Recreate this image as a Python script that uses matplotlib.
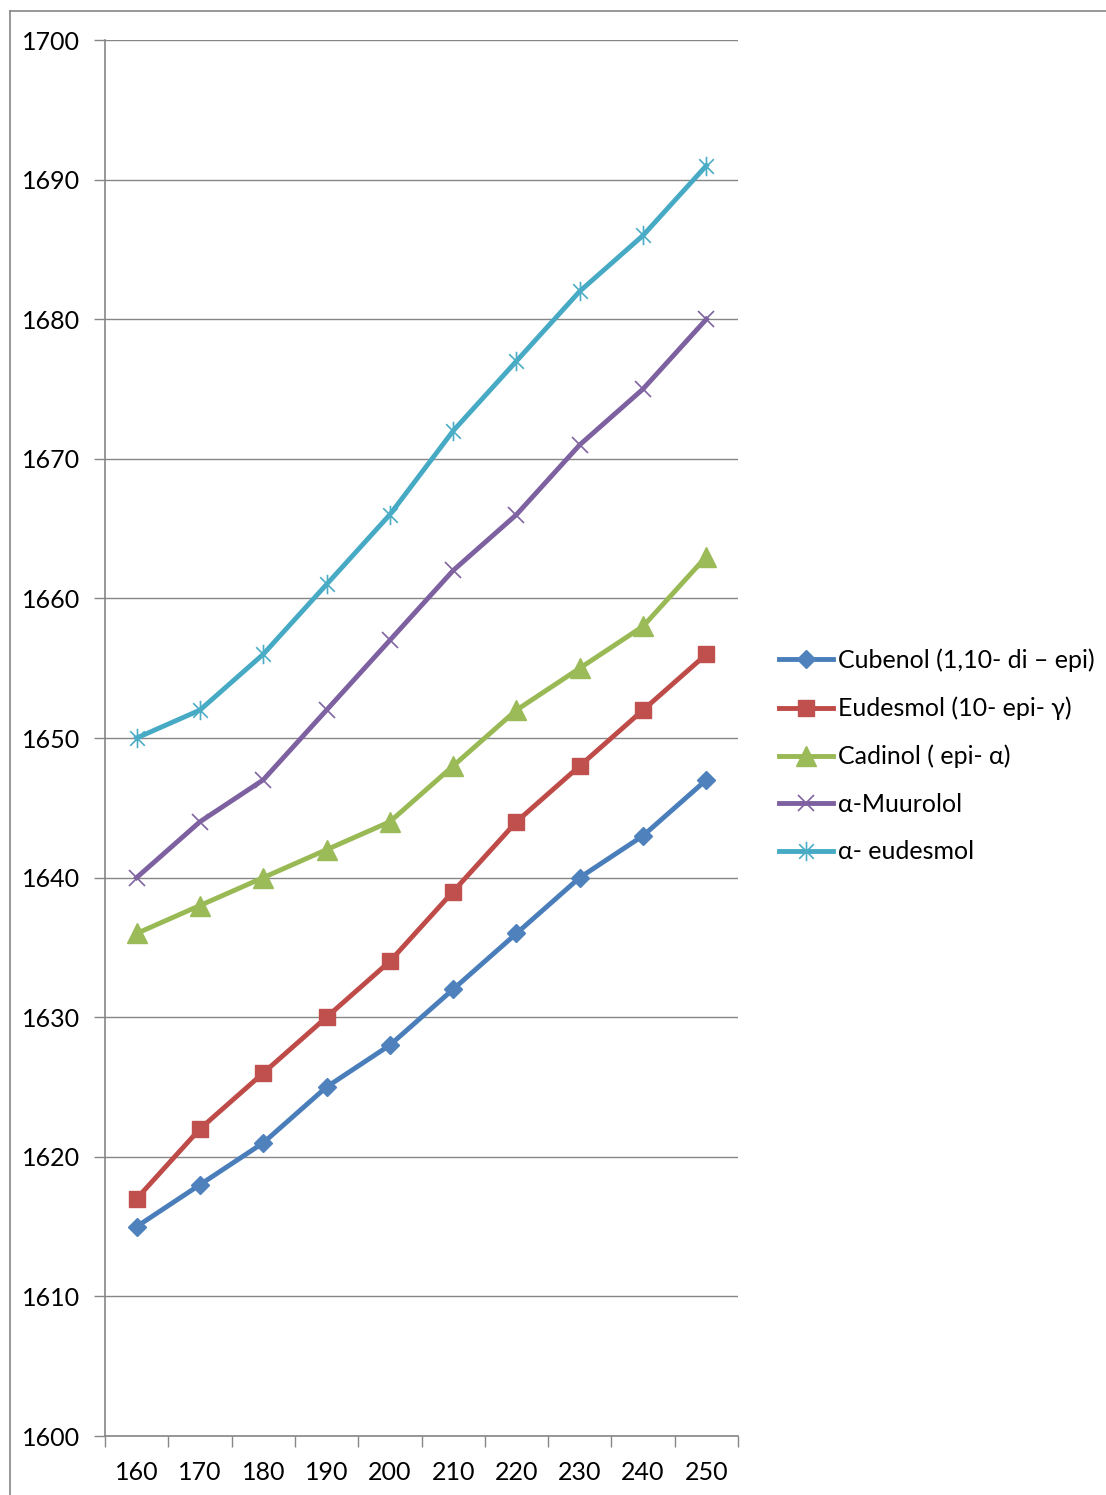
import matplotlib
matplotlib.use("Agg")
import matplotlib.pyplot as plt
from matplotlib.path import Path
from matplotlib.lines import Line2D

plt.rcParams['font.family'] = ['Lato', 'DejaVu Sans']

# Categories (x axis) and retention values per compound
categories = ['160', '170', '180', '190', '200', '210', '220', '230', '240', '250']
cubenol = [1615, 1618, 1621, 1625, 1628, 1632, 1636, 1640, 1643, 1647]
eudesmol_10epi = [1617, 1622, 1626, 1630, 1634, 1639, 1644, 1648, 1652, 1656]
cadinol = [1636, 1638, 1640, 1642, 1644, 1648, 1652, 1655, 1658, 1663]
muurolol = [1640, 1644, 1647, 1652, 1657, 1662, 1666, 1671, 1675, 1680]
alpha_eudesmol = [1650, 1652, 1656, 1661, 1666, 1672, 1677, 1682, 1686, 1691]

labels = ['Cubenol (1,10- di \u2013 epi)', 'Eudesmol (10- epi- \u03b3)',
          'Cadinol ( epi- \u03b1)', '\u03b1-Muurolol', '\u03b1- eudesmol']

# asterisk marker: vertical stroke plus an X
star_path = Path([(0, -1), (0, 1), (-0.75, -0.75), (0.75, 0.75), (-0.75, 0.75), (0.75, -0.75)],
                 [Path.MOVETO, Path.LINETO, Path.MOVETO, Path.LINETO, Path.MOVETO, Path.LINETO])

styles = [
    dict(color='#4A7EBB', marker='D', ms=9, mfc='#4F81BD', mec='#4F81BD', mew=1),
    dict(color='#BE4B48', marker='s', ms=12, mfc='#C0504D', mec='#C0504D', mew=1),
    dict(color='#98B954', marker='^', ms=14, mfc='#9BBB59', mec='#9BBB59', mew=1),
    dict(color='#7D60A0', marker='x', ms=12, mfc='none', mec='#8064A2', mew=1.2),
    dict(color='#46AAC5', marker=star_path, ms=14, mfc='none', mec='#4BACC6', mew=1.2),
]
series = [cubenol, eudesmol_10epi, cadinol, muurolol, alpha_eudesmol]

W, H = 1106, 1495
FS = 18
fig = plt.figure(figsize=(W / 100, H / 100), dpi=100)

# outer chart frame
fig.add_artist(Line2D([9.5 / W, 9.5 / W], [0, 1 - 11 / H], transform=fig.transFigure,
                      color='#868686', lw=1.2))
fig.add_artist(Line2D([9.5 / W, 1], [1 - 11 / H, 1 - 11 / H], transform=fig.transFigure,
                      color='#868686', lw=1.2))

ax = fig.add_axes([105 / W, 59 / H, 633 / W, 1396 / H])
x = list(range(len(categories)))
for vals, st, lab in zip(series, styles, labels):
    ax.plot(x, vals, lw=3.5, label=lab, solid_joinstyle='round', **st)

ax.set_xlim(-0.5, len(categories) - 0.5)
ax.set_ylim(1600, 1700)
ax.set_yticks(range(1600, 1701, 10))
ax.yaxis.grid(True, color='#868686', lw=1)
ax.set_axisbelow(True)

# tick marks between categories, labels at category centres
ax.set_xticks([i - 0.5 for i in range(len(categories) + 1)])
ax.set_xticklabels([])
ax.set_xticks(x, minor=True)
ax.set_xticklabels(categories, minor=True)
ax.tick_params(axis='x', which='major', direction='out', length=8, width=1, color='#868686')
ax.tick_params(axis='x', which='minor', length=0, pad=18, labelsize=FS)
ax.tick_params(axis='y', direction='out', length=8, width=1, color='#868686', pad=10, labelsize=FS)

for side in ['top', 'right']:
    ax.spines[side].set_visible(False)
for side in ['left', 'bottom']:
    ax.spines[side].set_color('#868686')
    ax.spines[side].set_linewidth(1.2)

ax.legend(loc='center left', bbox_to_anchor=(779 / W, 1 - 756 / H), bbox_transform=fig.transFigure,
          frameon=False, fontsize=FS, handlelength=2.15, handletextpad=0.2, labelspacing=0.98,
          borderaxespad=0, borderpad=0)

fig.savefig('out.png', dpi=100)
